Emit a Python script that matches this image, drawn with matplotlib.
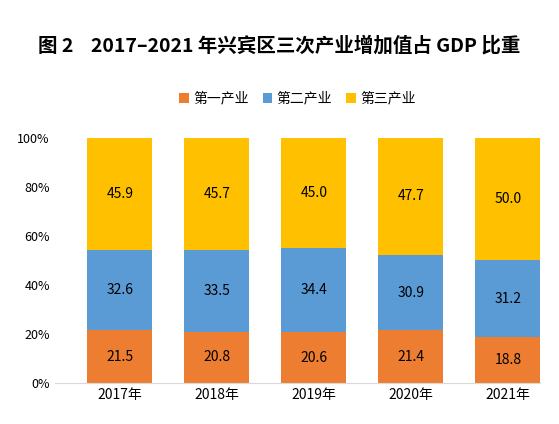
import matplotlib.pyplot as plt
import numpy as np

plt.rcParams['font.family'] = ['Noto Sans CJK SC', 'DejaVu Sans']

years = ["2017年", "2018年", "2019年", "2020年", "2021年"]
primary = [21.5, 20.8, 20.6, 21.4, 18.8]
secondary = [32.6, 33.5, 34.4, 30.9, 31.2]
tertiary = [45.9, 45.7, 45.0, 47.7, 50.0]

fig = plt.figure(figsize=(5.59, 4.24), dpi=100)
ax = fig.add_axes([0.098, 0.097, 0.868, 0.578])

x = np.arange(len(years))
w = 0.67
p1 = np.array(primary)
p2 = np.array(secondary)
p3 = np.array(tertiary)
ax.bar(x, p1, w, color="#ED7D31", label="第一产业")
ax.bar(x, p2, w, bottom=p1, color="#5B9BD5", label="第二产业")
ax.bar(x, p3, w, bottom=p1 + p2, color="#FFC000", label="第三产业")

for i in range(len(years)):
    ax.text(x[i], p1[i] / 2, f"{p1[i]:.1f}", ha="center", va="center", fontsize=10)
    ax.text(x[i], p1[i] + p2[i] / 2, f"{p2[i]:.1f}", ha="center", va="center", fontsize=10)
    ax.text(x[i], p1[i] + p2[i] + p3[i] / 2, f"{p3[i]:.1f}", ha="center", va="center", fontsize=10)

ax.set_ylim(0, 100)
ax.set_xlim(-0.67, len(years) - 0.67)
ax.set_yticks(range(0, 101, 20))
ax.set_yticklabels([f"{v}%" for v in range(0, 101, 20)], fontsize=9)
ax.set_xticks(x)
ax.set_xticklabels(years, fontsize=10)
ax.tick_params(axis="both", length=0)
for s in ["top", "right", "left"]:
    ax.spines[s].set_visible(False)
ax.spines["bottom"].set_color("#D9D9D9")

ax.legend(loc="lower center", bbox_to_anchor=(0.5, 1.08), ncol=3, frameon=False,
          fontsize=10, handlelength=0.7, handleheight=0.7, columnspacing=1.0, handletextpad=0.3)

fig.text(0.5, 0.893, "图 2    2017–2021 年兴宾区三次产业增加值占 GDP 比重",
         ha="center", va="center", fontsize=14, fontweight="bold")

fig.savefig("out.png", dpi=100)
